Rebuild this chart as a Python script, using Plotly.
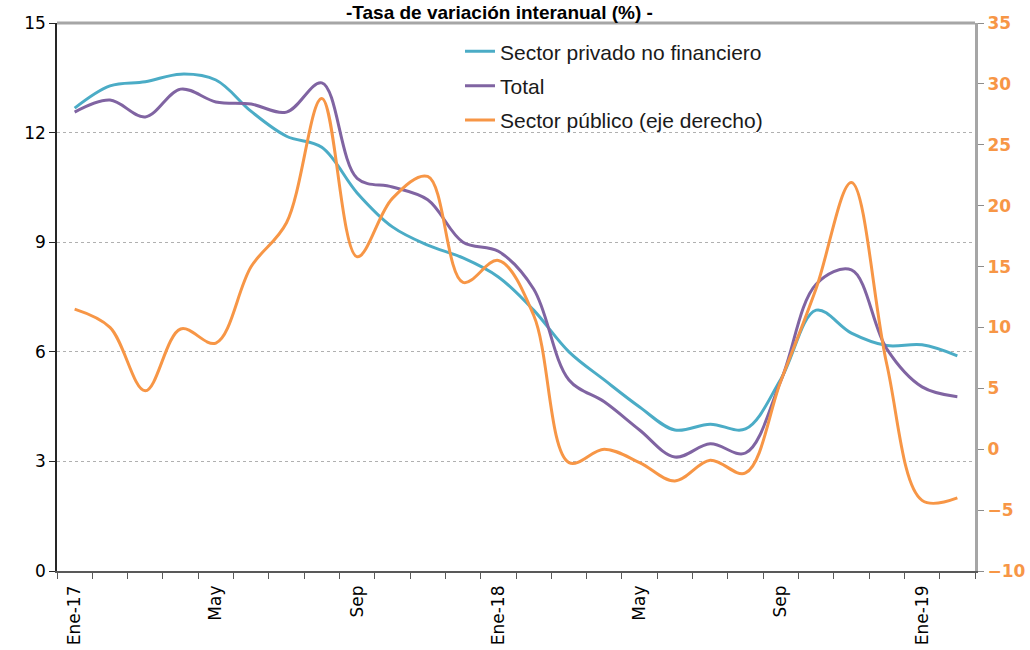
import plotly.graph_objects as go

months = ["Ene-17", "Feb-17", "Mar-17", "Abr-17", "May-17", "Jun-17", "Jul-17", "Ago-17",
          "Sep-17", "Oct-17", "Nov-17", "Dic-17", "Ene-18", "Feb-18", "Mar-18", "Abr-18",
          "May-18", "Jun-18", "Jul-18", "Ago-18", "Sep-18", "Oct-18", "Nov-18", "Dic-18",
          "Ene-19", "Feb-19"]
tick_labels = ["Ene-17", "May", "Sep", "Ene-18", "May", "Sep", "Ene-19"]
tick_index = [0, 4, 8, 12, 16, 20, 24]

privado = [12.67, 13.28, 13.39, 13.6, 13.44, 12.58, 11.9, 11.6, 10.35, 9.42, 8.92, 8.57, 8.05,
           7.14, 6.0, 5.23, 4.49, 3.86, 4.02, 3.89, 5.25, 7.14, 6.51, 6.17, 6.19, 5.89]
total = [12.56, 12.89, 12.43, 13.19, 12.84, 12.78, 12.56, 13.36, 10.75, 10.51, 10.16, 9.0, 8.75,
         7.72, 5.23, 4.63, 3.86, 3.12, 3.48, 3.23, 5.2, 7.85, 8.24, 6.08, 5.04, 4.77]
publico = [11.5, 10.0, 4.8, 9.87, 8.72, 15.0, 18.6, 28.8, 15.8, 20.6, 22.4, 13.7, 15.5,
           11.0, -1.1, 0.0, -1.1, -2.6, -0.9, -1.95, 5.6, 13.2, 21.9, 7.0, -4.2, -4.0]

names = ["Sector privado no financiero", "Total", "Sector público (eje derecho)"]
colors = ["#4BACC6", "#8064A2", "#F79646"]

x = list(range(len(months)))

fig = go.Figure()
fig.add_trace(go.Scatter(x=x, y=privado, name=names[0], mode="lines", legendgroup="a",
                         line=dict(color=colors[0], width=3, shape="spline", smoothing=1.0),
                         text=months))
fig.add_trace(go.Scatter(x=x, y=total, name=names[1], mode="lines", legendgroup="b",
                         line=dict(color=colors[1], width=3, shape="spline", smoothing=1.0),
                         text=months))
fig.add_trace(go.Scatter(x=x, y=publico, name=names[2], mode="lines", legendgroup="c",
                         yaxis="y2",
                         line=dict(color=colors[2], width=3, shape="spline", smoothing=1.0),
                         text=months))

fig.update_layout(
    width=1030, height=650,
    margin=dict(l=57, r=55, t=23, b=79, autoexpand=False),
    paper_bgcolor="white", plot_bgcolor="white",
    showlegend=True,
    legend=dict(x=0.439, y=0.985, xanchor="left", yanchor="top",
                bgcolor="rgba(255,255,255,0)", borderwidth=0,
                font=dict(family="Liberation Sans", size=21, color="#1a1a1a"),
                tracegroupgap=4, itemwidth=30),
    xaxis=dict(range=[-0.5, 25.5], tickmode="array", tickvals=tick_index, ticktext=tick_labels,
               tickangle=-90, ticks="outside", ticklen=6, tickcolor="rgba(0,0,0,0)",
               tickfont=dict(family="DejaVu Sans", size=17, color="#000000"),
               showgrid=False, zeroline=False, automargin=False,
               showline=True, linecolor="#595959", linewidth=1.5,
               minor=dict(tickmode="linear", tick0=-0.5, dtick=1, ticks="outside", ticklen=6,
                          tickcolor="#595959", tickwidth=1.2, showgrid=False)),
    yaxis=dict(range=[0, 15], tickmode="linear", tick0=0, dtick=3,
               ticks="outside", ticklen=6, tickcolor="#262626",
               tickfont=dict(family="DejaVu Sans", size=17, color="#000000"),
               showgrid=True, gridcolor="#B0B0B0", griddash="dot", gridwidth=1,
               zeroline=False, automargin=False,
               showline=True, linecolor="#262626", linewidth=1.5),
    yaxis2=dict(range=[-10, 35], tickmode="linear", tick0=-10, dtick=5,
                overlaying="y", side="right",
                ticks="outside", ticklen=6, tickcolor="#8C8C8C",
                tickfont=dict(family="DejaVu Sans", size=17, color="#F79646", weight="bold"),
                showgrid=False, zeroline=False, automargin=False,
                showline=True, linecolor="#A6A6A6", linewidth=3),
)

# top border of plot area
fig.add_shape(type="line", xref="paper", yref="paper", x0=0, x1=1, y0=1, y1=1,
              line=dict(color="#A6A6A6", width=3))

fig.add_annotation(text="<b>-Tasa de variación interanual (%) -</b>", xref="paper", yref="paper",
                   x=0.482, y=1.019, xanchor="center", yanchor="middle", showarrow=False,
                   borderpad=0,
                   font=dict(family="Liberation Sans", size=19, color="#000000"))

fig.write_html("out.html", config={"displayModeBar": False},
               post_script="document.body.style.margin='0';document.body.style.overflow='hidden';")
